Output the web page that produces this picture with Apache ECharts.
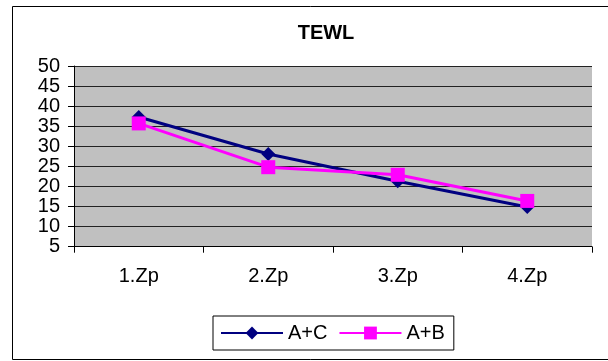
<!DOCTYPE html>
<html><head><meta charset="utf-8">
<script src="https://cdn.jsdelivr.net/npm/echarts@6/dist/echarts.min.js"></script>
<style>html,body{margin:0;padding:0;background:#fff}#c{width:608px;height:361px}</style>
</head><body><div id="c"></div>
<script>
const categories = ['1.Zp', '2.Zp', '3.Zp', '4.Zp'];
const seriesAC = [37.3, 28.1, 21.3, 14.9];
const seriesAB = [35.7, 24.8, 22.9, 16.4];
const yTicks = { min: 5, max: 50, interval: 5 };
const FONT = '"Liberation Sans", Arial, sans-serif';

const chart = echarts.init(document.getElementById('c'), null, { renderer: 'canvas' });
chart.setOption({
  animation: false,
  backgroundColor: '#fff',
  title: {
    text: 'TEWL', left: 326, top: 23, textAlign: 'center', padding: 0,
    textStyle: { fontFamily: FONT, fontSize: 20, fontWeight: 'bold', color: '#000' }
  },
  graphic: [{
    type: 'rect', silent: true, z: -1,
    shape: { x: 12.5, y: 6.5, width: 700, height: 353 },
    style: { fill: 'none', stroke: '#000', lineWidth: 1 }
  }],
  legend: {
    left: 213, top: 316, orient: 'horizontal',
    padding: [7, 9, 7, 7], itemGap: 11, itemWidth: 62, itemHeight: 16,
    borderColor: '#000', borderWidth: 1,
    textStyle: { fontFamily: FONT, fontSize: 20, color: '#000' },
    data: ['A+C', 'A+B']
  },
  grid: { left: 74, top: 66, right: 16, bottom: 114.3, show: true, backgroundColor: '#C0C0C0', borderWidth: 0 },
  xAxis: {
    type: 'category', data: categories, boundaryGap: true,
    axisLine: { lineStyle: { color: '#000', width: 1 } },
    axisTick: { show: true, interval: 0, length: 6, lineStyle: { color: '#000' } },
    axisLabel: { interval: 0, margin: 20, fontFamily: FONT, fontSize: 20, color: '#000' },
    splitLine: { show: false }
  },
  yAxis: {
    type: 'value', min: yTicks.min, max: yTicks.max, interval: yTicks.interval,
    axisLine: { show: true, lineStyle: { color: '#000', width: 1 } },
    axisTick: { show: true, length: 6, lineStyle: { color: '#000' } },
    axisLabel: { margin: 14, fontFamily: FONT, fontSize: 20, color: '#000' },
    splitLine: { show: true, lineStyle: { color: '#222', width: 1 } }
  },
  series: [
    {
      name: 'A+C', type: 'line', data: seriesAC,
      symbol: 'diamond', symbolSize: 14,
      lineStyle: { color: '#000080', width: 3 },
      itemStyle: { color: '#000080' }
    },
    {
      name: 'A+B', type: 'line', data: seriesAB,
      symbol: 'rect', symbolSize: 14,
      lineStyle: { color: '#FF00FF', width: 3 },
      itemStyle: { color: '#FF00FF' }
    }
  ]
});
</script>
</body></html>
